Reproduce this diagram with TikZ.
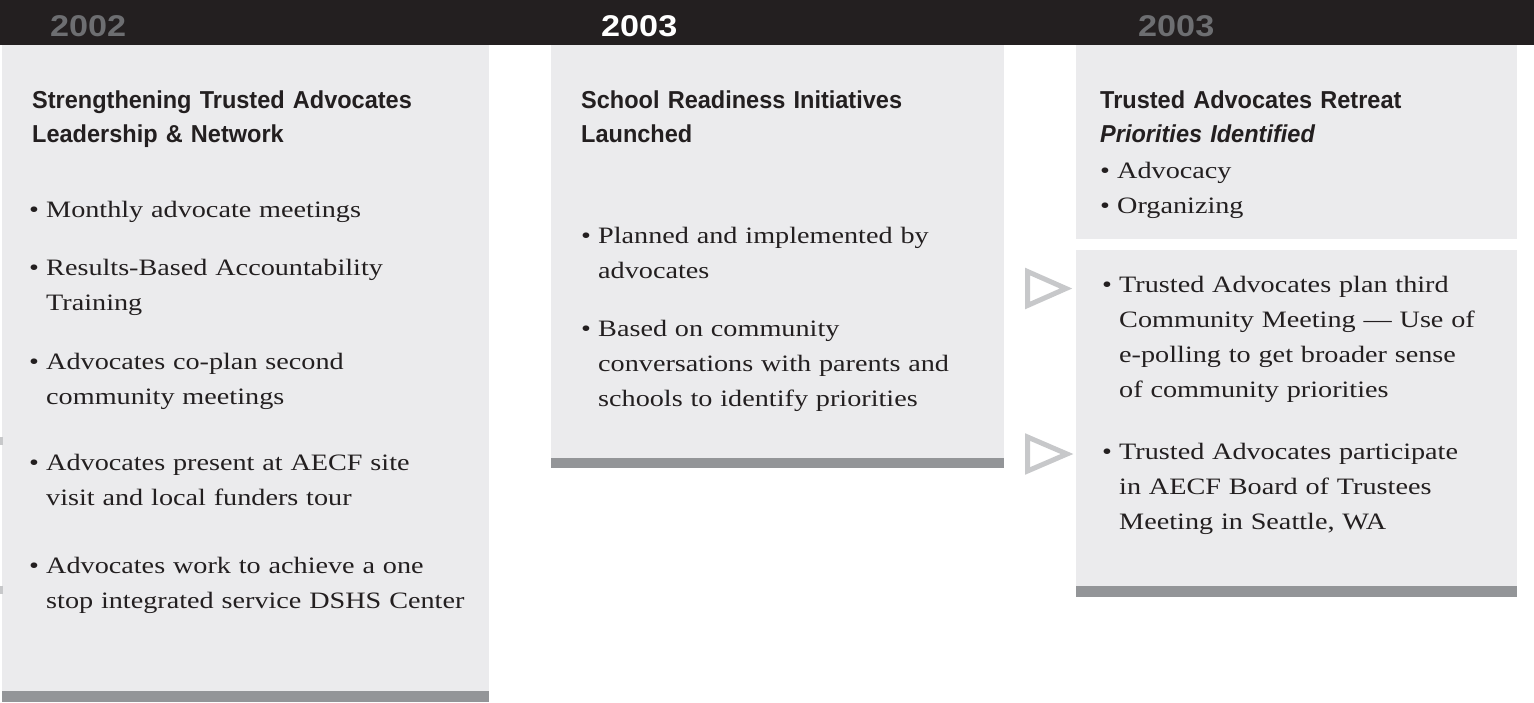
\documentclass[tikz,border=0pt]{standalone}
\usepackage{fontspec}
\setmainfont[FakeStretch=1.2]{Liberation Serif}
\newfontfamily\headfont[FakeStretch=0.96]{Liberation Sans}
\newfontfamily\yearfont[FakeStretch=1.14]{Liberation Sans}
\usetikzlibrary{positioning}
\definecolor{barblack}{HTML}{231F20}
\definecolor{panelgray}{HTML}{EBEBED}
\definecolor{footgray}{HTML}{939598}
\definecolor{yeargray}{HTML}{6D6E71}
\definecolor{arrowgray}{HTML}{C7C8CA}
\definecolor{inkdark}{HTML}{231F20}
\tikzset{
    year/.style={anchor=base west, inner sep=0pt, font=\yearfont\bfseries\fontsize{30}{30}\selectfont},
    heading/.style={anchor=north west, inner sep=0pt, text width=440pt, align=left, text=inkdark, font=\headfont\bfseries\fontsize{24.5}{34}\selectfont, execute at begin node={\noindent\strut}, execute at end node=\strut},
    item/.style={anchor=north west, inner sep=0pt, text width=450pt, align=left, text=inkdark, font=\fontsize{23.5}{35}\selectfont, execute at begin node={\hangindent=17pt\hangafter=1\noindent\makebox[17pt][l]{\textbullet}\strut}, execute at end node=\strut},
    panel/.style={fill=panelgray},
    footbar/.style={fill=footgray},
    pointer/.style={draw=arrowgray, line width=5pt, line join=miter}
}
\begin{document}
\begin{tikzpicture}[x=1pt, y=-1pt]
    \useasboundingbox (0,0) rectangle (1534,702);
    % Year bar
    \fill[barblack] (0,0) rectangle (1534,45);
    \node[year, text=yeargray] (year1) at (50,36) {2002};
    \node[year, text=white] (year2) at (601,36) {2003};
    \node[year, text=yeargray] (year3) at (1138,36) {2003};

    % Panels
    \fill[panel] (2,45) rectangle (489,702);
    \fill[footbar] (2,691) rectangle (489,702);
    \fill[panel] (551,45) rectangle (1004,468);
    \fill[footbar] (551,458) rectangle (1004,468);
    \fill[panel] (1076,45) rectangle (1517,239);
    \fill[panel] (1076,250) rectangle (1517,597);
    \fill[footbar] (1076,586) rectangle (1517,597);

    % Pointers
    \fill[arrowgray] (0,437) rectangle (2.5,445);
    \fill[arrowgray] (0,586) rectangle (2.5,594);
    \draw[pointer] (1027.5,271.5) -- (1027.5,305.5) -- (1066,288.5) -- cycle;
    \draw[pointer] (1027.5,437) -- (1027.5,471) -- (1067,454) -- cycle;

    % Column 1
    \node[heading] (head1) at (32,84.2) {Strengthening Trusted Advocates\newline Leadership \& Network};
    \node[item, below right=40pt and -3pt of head1.south west] (a1) {Monthly advocate meetings};
    \node[item, below right=23pt and 0pt of a1.south west] (a2) {Results-Based Accountability\newline Training};
    \node[item, below right=23pt and 0pt of a2.south west] (a3) {Advocates co-plan second\newline community meetings};
    \node[item, below right=31pt and 0pt of a3.south west] (a4) {Advocates present at AECF site\newline visit and local funders tour};
    \node[item, below right=33pt and 0pt of a4.south west] (a5) {Advocates work to achieve a one\newline stop integrated service DSHS Center};

    % Column 2
    \node[heading] (head2) at (581,84.2) {School Readiness Initiatives\newline Launched};
    \node[item, below right=66pt and 0pt of head2.south west] (b1) {Planned and implemented by\newline advocates};
    \node[item, below right=23pt and 0pt of b1.south west] (b2) {Based on community\newline conversations with parents and\newline schools to identify priorities};

    % Column 3
    \node[heading] (head3) at (1100,84.2) {Trusted Advocates Retreat\newline \textit{Priorities Identified}};
    \node[item, below right=1pt and 0pt of head3.south west] (c1) {Advocacy};
    \node[item, below right=0pt and 0pt of c1.south west] (c2) {Organizing};
    \node[item, below right=43pt and 2pt of c2.south west] (c3) {Trusted Advocates plan third\newline Community Meeting --- Use of\newline e-polling to get broader sense\newline of community priorities};
    \node[item, below right=27pt and 0pt of c3.south west] (c4) {Trusted Advocates participate\newline in AECF Board of Trustees\newline Meeting in Seattle, WA};
\end{tikzpicture}
\end{document}
